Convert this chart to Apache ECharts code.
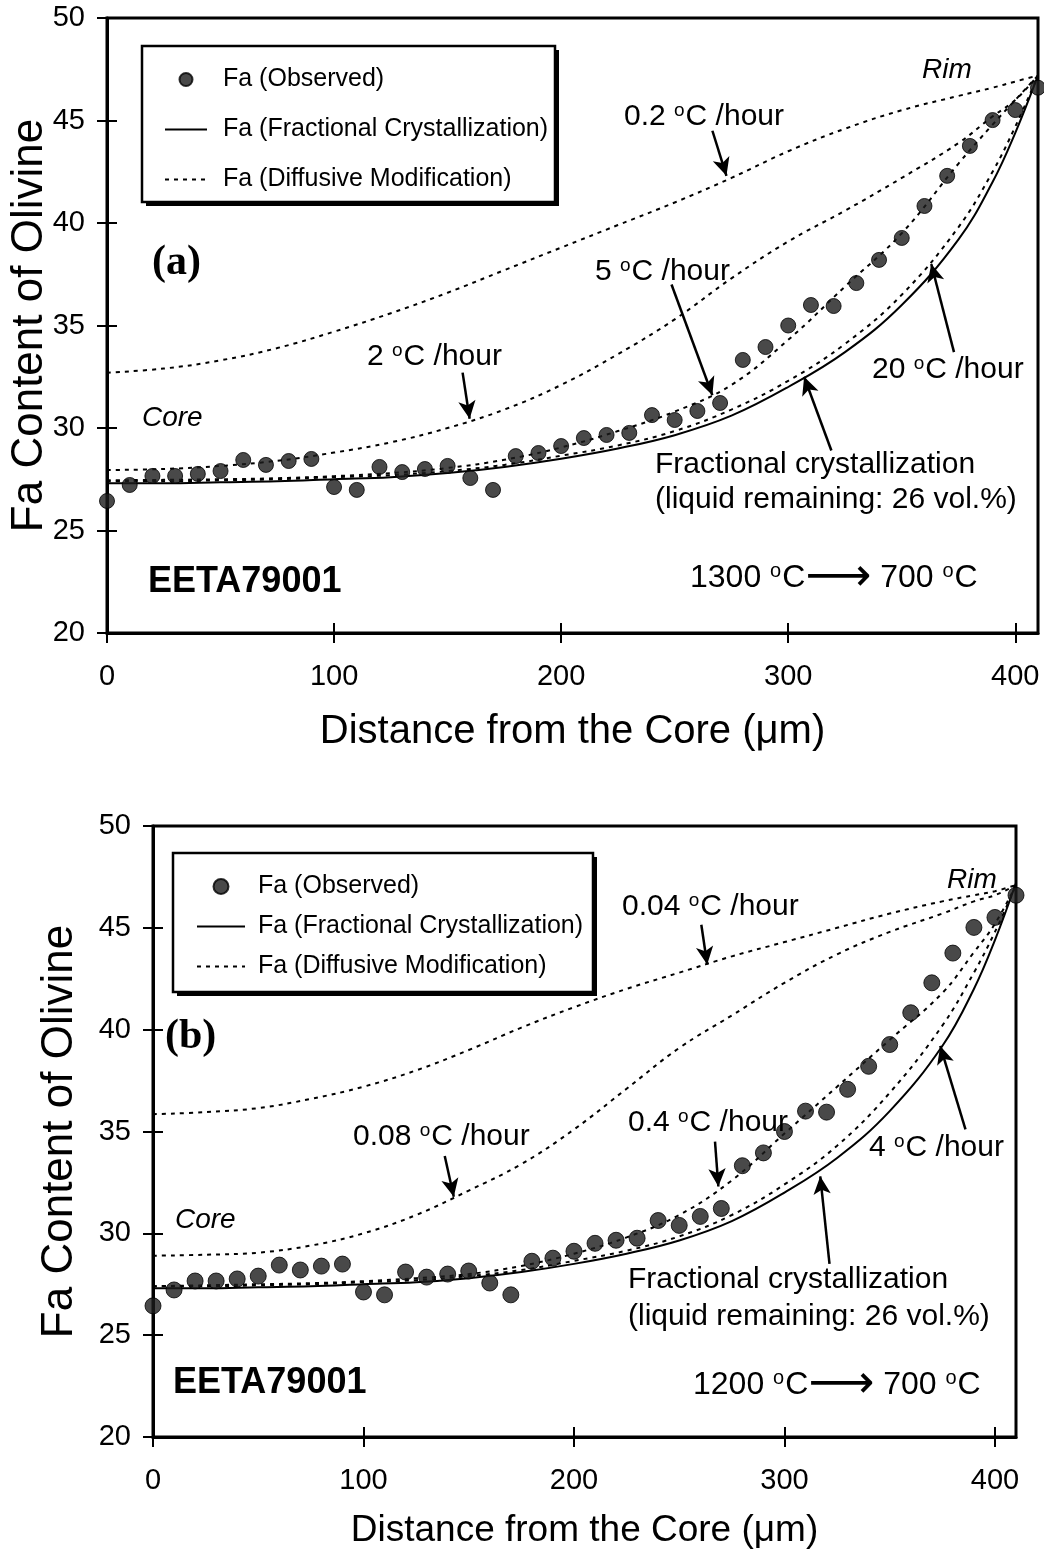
<!DOCTYPE html>
<html>
<head>
<meta charset="utf-8">
<script src="https://cdn.jsdelivr.net/npm/echarts@6/dist/echarts.min.js"></script>
<style>
  html, body { margin: 0; padding: 0; background: #fff; }
  #chart { width: 1044px; height: 1555px; }
</style>
</head>
<body>
<div id="chart"></div>
<script>
// observed Fa profile (same grain in both panels)
const distance = [0,10,20,30,40,50,60,70,80,90,100,110,120,130,140,150,160,170,180,190,200,
  210,220,230,240,250,260,270,280,290,300,310,320,330,340,350,360,370,380,390,400,410];
const obsFa = [26.44,27.22,27.66,27.66,27.76,27.9,28.44,28.2,28.39,28.49,27.12,26.98,28.1,27.85,28.0,28.15,27.56,26.98,28.63,28.78,29.12,
  29.51,29.66,29.76,30.63,30.39,30.83,31.22,33.32,33.95,35.0,36.0,35.95,37.07,38.2,39.27,40.83,42.3,43.76,45.02,45.51,46.6];

// model curves
const curveX = [0,25,50,75,100,125,150,175,200,225,250,275,300,325,350,375,390,400,410];
const fracFa = [27.3,27.3,27.35,27.4,27.5,27.6,27.8,28.1,28.5,29.0,29.65,30.6,32.0,33.7,36.0,39.2,42.0,44.4,47.2];
// panel (a) 1300 -> 700 C
const diff20 = [27.4,27.4,27.45,27.5,27.6,27.7,27.9,28.2,28.65,29.15,29.85,30.9,32.3,34.1,36.5,39.8,42.5,44.7,47.2];
const diff5 = [27.45,27.47,27.5,27.55,27.65,27.8,28.05,28.45,29.05,29.85,30.8,32.1,34.3,36.9,39.5,42.9,44.8,46.0,47.2];
const diff2 = [27.95,28.0,28.15,28.4,28.8,29.3,30.0,30.9,32.1,33.6,35.3,37.3,39.1,40.6,42.2,43.9,45.2,46.0,47.2];
const diff02 = [32.7,32.9,33.3,33.9,34.7,35.6,36.6,37.7,38.8,39.9,41.0,42.2,43.5,44.6,45.5,46.2,46.6,46.9,47.2];
// panel (b) 1200 -> 700 C
const diff4 = [27.4,27.4,27.45,27.5,27.6,27.7,27.9,28.2,28.65,29.15,29.85,30.9,32.4,34.3,36.9,40.2,42.8,44.8,47.1];
const diff04 = [27.4,27.45,27.5,27.55,27.65,27.8,28.0,28.4,29.0,29.8,30.9,32.6,34.9,37.2,39.5,41.8,43.8,45.2,47.1];
const diff008 = [28.9,28.95,29.05,29.4,30.0,30.9,32.1,33.4,35.1,37.1,39.1,40.7,42.3,43.7,44.8,45.7,46.3,46.6,47.1];
const diff004 = [35.85,35.95,36.15,36.6,37.2,38.0,39.0,40.1,41.1,42.0,42.8,43.6,44.3,45.0,45.7,46.3,46.6,46.8,47.1];

const xTicks = [0, 100, 200, 300, 400];

// annotation arrows [from, to] in data units
const arrowsA = [
  [[266.6, 44.5], [272.8, 42.3]],
  [[156.6, 32.7], [159.7, 30.45]],
  [[248.6, 37.0], [266.6, 31.6]],
  [[373, 33.7], [363, 38.0]],
  [[319, 28.9], [307, 32.5]]
];
const arrowsB = [
  [[260.5, 45.15], [263.3, 43.2]],
  [[138.6, 33.8], [142.9, 31.8]],
  [[267, 34.5], [268.6, 32.3]],
  [[386, 35.1], [374, 39.2]],
  [[321.4, 28.5], [317, 32.8]]
];

const FONT = '"Liberation Sans", Arial, sans-serif';
const NAME_OBS = 'Fa (Observed)';
const NAME_FC = 'Fa (Fractional Crystallization)';
const NAME_DM = 'Fa (Diffusive Modification)';

function pairs(xs, ys) {
  return xs.map((x, i) => [x, ys[i]]);
}

function xAxes(grid, gap, nameSize) {
  const base = {
    type: 'value', gridIndex: grid, min: 0, max: 410, interval: 100,
    splitLine: { show: false }
  };
  return [
    Object.assign({}, base, {
      position: 'bottom',
      axisLine: { show: true, lineStyle: { color: '#000', width: 3 } },
      axisTick: { show: true, inside: false, length: 10, customValues: xTicks, lineStyle: { color: '#000', width: 2 } },
      axisLabel: { show: true, customValues: xTicks, margin: 29, fontSize: 29, color: '#000', fontFamily: FONT },
      name: 'Distance from the Core (\u03bcm)',
      nameLocation: 'middle', nameGap: gap, nameMoveOverlap: false,
      nameTextStyle: { fontSize: nameSize, color: '#000', fontFamily: FONT }
    }),
    Object.assign({}, base, {
      position: 'bottom',
      axisLine: { show: false },
      axisTick: { show: true, inside: true, length: 10, customValues: xTicks, lineStyle: { color: '#000', width: 2 } },
      axisLabel: { show: false }
    })
  ];
}

function yAxes(grid, gap) {
  const base = {
    type: 'value', gridIndex: grid, min: 20, max: 50, interval: 5,
    splitLine: { show: false }
  };
  return [
    Object.assign({}, base, {
      position: 'left',
      axisLine: { show: true, lineStyle: { color: '#000', width: 3 } },
      axisTick: { show: true, inside: false, length: 10, lineStyle: { color: '#000', width: 2 } },
      axisLabel: { show: true, margin: 22, fontSize: 29, color: '#000', fontFamily: FONT },
      name: 'Fa Content of Olivine',
      nameLocation: 'middle', nameGap: gap, nameMoveOverlap: false,
      nameTextStyle: { fontSize: 44, color: '#000', fontFamily: FONT }
    }),
    Object.assign({}, base, {
      position: 'left',
      axisLine: { show: false },
      axisTick: { show: true, inside: true, length: 10, lineStyle: { color: '#000', width: 2 } },
      axisLabel: { show: false }
    })
  ];
}

function panelSeries(ax, diffs, arrows, symSize) {
  const list = [];
  list.push({
    name: NAME_FC, type: 'line', xAxisIndex: ax, yAxisIndex: ax,
    data: pairs(curveX, fracFa), smooth: 0.4, symbol: 'none', color: '#000',
    lineStyle: { color: '#000', width: 2, type: 'solid' }, z: 3,
    markLine: {
      silent: true, symbol: ['none', 'arrow'], symbolSize: [13, 18],
      lineStyle: { color: '#000', width: 2.5, type: 'solid' },
      label: { show: false },
      data: arrows.map(a => [{ coord: a[0] }, { coord: a[1] }])
    }
  });
  diffs.forEach(d => {
    list.push({
      name: NAME_DM, type: 'line', xAxisIndex: ax, yAxisIndex: ax,
      data: pairs(curveX, d), smooth: 0.4, symbol: 'none', color: '#000',
      lineStyle: { color: '#000', width: 2, type: [4, 5] }, z: 3
    });
  });
  list.push({
    name: NAME_OBS, type: 'scatter', xAxisIndex: ax, yAxisIndex: ax,
    data: pairs(distance, obsFa), symbol: 'circle', symbolSize: symSize, color: '#1c1c1c',
    itemStyle: { color: '#1c1c1c', borderColor: '#000', borderWidth: 1 }, z: 5
  });
  return list;
}

function legendItems() {
  return [
    { name: NAME_OBS },
    { name: NAME_FC, itemStyle: { opacity: 0 } },
    { name: NAME_DM, itemStyle: { opacity: 0 } }
  ];
}

function richText(size) {
  return {
    n: { fontSize: size, lineHeight: size + 2, fontFamily: FONT, fill: '#000' },
    s: { fontSize: Math.round(size * 0.63), lineHeight: 6, fontFamily: FONT, fill: '#000', verticalAlign: 'top', padding: [0, 1, 0, 0] },
    a: { fontSize: 46, lineHeight: size + 2, fontFamily: '"DejaVu Sans"', fill: '#000' }
  };
}

function rate(x, y, num) {
  return {
    type: 'text', z: 20, x: x, y: y,
    style: {
      text: '{n|' + num + ' }{s|o}{n|C /hour}',
      fill: '#000', textVerticalAlign: 'middle', rich: richText(30)
    }
  };
}

function plain(x, y, text, font) {
  return {
    type: 'text', z: 20, x: x, y: y,
    style: { text: text, font: font, fill: '#000', textVerticalAlign: 'middle' }
  };
}

function tempRange(x, y, from) {
  return {
    type: 'text', z: 20, x: x, y: y,
    style: {
      text: '{n|' + from + ' }{s|o}{n|C}{a|\u27f6}{n| 700 }{s|o}{n|C}',
      fill: '#000', textVerticalAlign: 'middle', rich: richText(32)
    }
  };
}

function legendBox(x, y, w, h) {
  return [
    { type: 'rect', z: 3, shape: { x: x + 4, y: y + 4, width: w, height: h }, style: { fill: '#000' } },
    { type: 'rect', z: 3, shape: { x: x, y: y, width: w, height: h }, style: { fill: '#fff', stroke: '#000', lineWidth: 2.5 } }
  ];
}

const chart = echarts.init(document.getElementById('chart'), null, { renderer: 'canvas' });

const option = {
  backgroundColor: '#fff',
  animation: false,
  grid: [
    { left: 107, top: 18, width: 931, height: 615, show: true, borderColor: '#000', borderWidth: 3,
      backgroundColor: 'transparent', containLabel: false, outerBoundsMode: 'none' },
    { left: 153, top: 826, width: 863, height: 611, show: true, borderColor: '#000', borderWidth: 3,
      backgroundColor: 'transparent', containLabel: false, outerBoundsMode: 'none' }
  ],
  xAxis: xAxes(0, 79, 40).concat(xAxes(1, 75, 37)),
  yAxis: yAxes(0, 55).concat(yAxes(1, 71)),
  legend: [
    {
      left: 159, top: 62, orient: 'vertical', itemGap: 25, itemWidth: 42, itemHeight: 13,
      selectedMode: false, z: 10,
      data: legendItems(),
      textStyle: { fontSize: 25, fontFamily: FONT, color: '#000', padding: [0, 0, 0, 11] }
    },
    {
      left: 191, top: 869, orient: 'vertical', itemGap: 15, itemWidth: 48, itemHeight: 15,
      selectedMode: false, z: 10,
      data: legendItems(),
      textStyle: { fontSize: 25, fontFamily: FONT, color: '#000', padding: [0, 0, 0, 8] }
    }
  ],
  series: panelSeries(0, [diff20, diff5, diff2, diff02], arrowsA, 15)
    .concat(panelSeries(2, [diff4, diff04, diff008, diff004], arrowsB, 16)),
  graphic: [].concat(
    legendBox(142, 46, 413, 156),
    legendBox(173, 853, 420, 139),
    [
      // panel (a)
      rate(624, 117, '0.2'),
      rate(367, 357, '2'),
      rate(595, 272, '5'),
      rate(872, 370, '20'),
      plain(655, 465, 'Fractional crystallization', '30px "Liberation Sans"'),
      plain(655, 500, '(liquid remaining: 26 vol.%)', '30px "Liberation Sans"'),
      plain(142, 418, 'Core', 'italic 28px "Liberation Sans"'),
      plain(922, 70, 'Rim', 'italic 28px "Liberation Sans"'),
      plain(152, 263, '(a)', 'bold 42px "Liberation Serif"'),
      plain(148, 582, 'EETA79001', 'bold 36px "Liberation Sans"'),
      tempRange(690, 578, '1300'),
      // panel (b)
      rate(622, 907, '0.04'),
      rate(353, 1137, '0.08'),
      rate(628, 1123, '0.4'),
      rate(869, 1148, '4'),
      plain(628, 1280, 'Fractional crystallization', '30px "Liberation Sans"'),
      plain(628, 1317, '(liquid remaining: 26 vol.%)', '30px "Liberation Sans"'),
      plain(175, 1220, 'Core', 'italic 28px "Liberation Sans"'),
      plain(947, 880, 'Rim', 'italic 28px "Liberation Sans"'),
      plain(165, 1037, '(b)', 'bold 42px "Liberation Serif"'),
      plain(173, 1383, 'EETA79001', 'bold 36px "Liberation Sans"'),
      tempRange(693, 1385, '1200')
    ]
  )
};

chart.setOption(option);
</script>
</body>
</html>
